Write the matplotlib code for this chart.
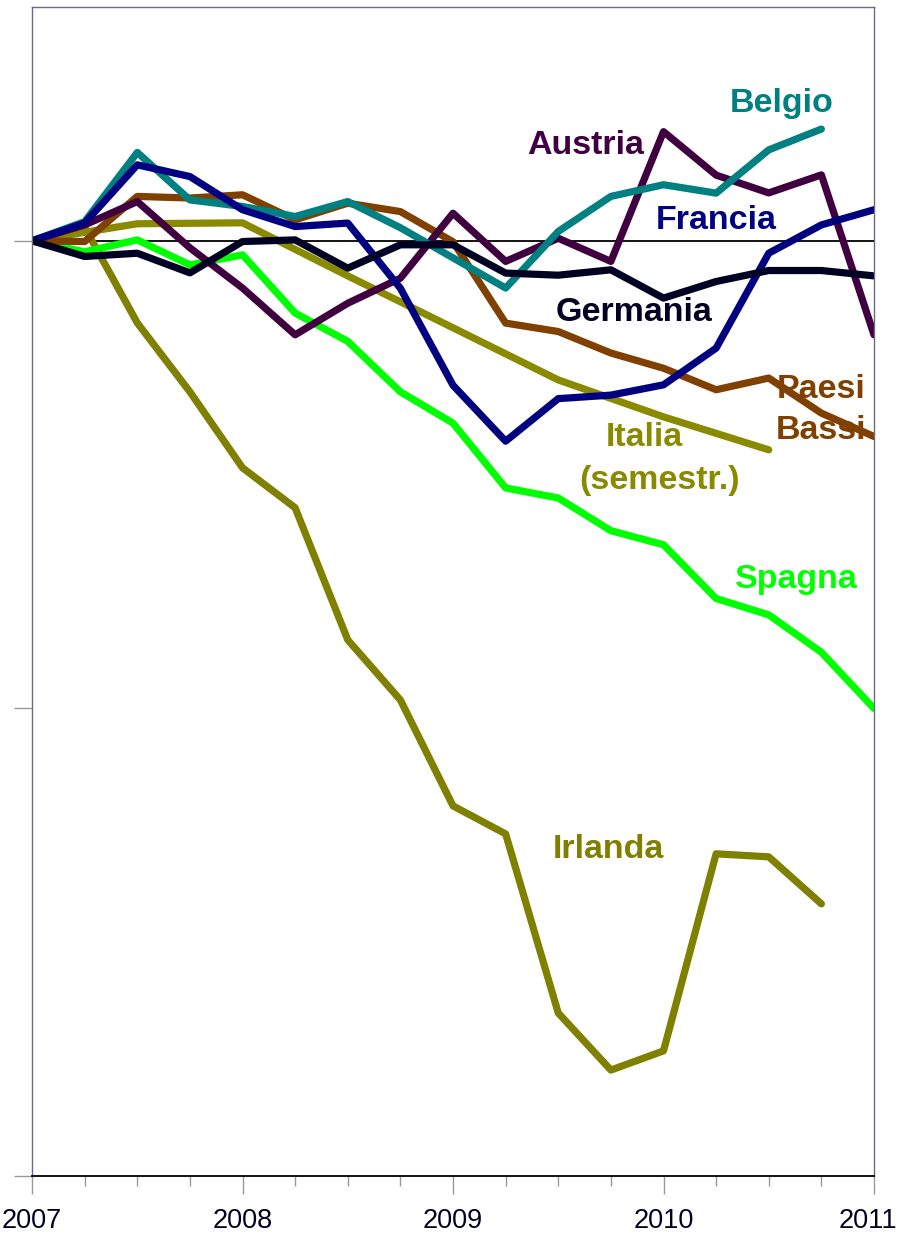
import numpy as np
import matplotlib
matplotlib.use("Agg")
import matplotlib.pyplot as plt
import matplotlib.transforms as mtransforms
from matplotlib.ticker import MultipleLocator

plt.rcParams['font.family'] = ['Liberation Sans', 'DejaVu Sans']

# quarterly index, % change since 2007
quarters = 2007 + np.arange(17) * 0.25
semesters = 2007 + np.arange(8) * 0.5

austria = [0, 0.68, 1.68, -0.30, -2.02, -4.02, -2.67, -1.60, 1.18, -0.88, 0.11, -0.88,
           4.67, 2.81, 2.05, 2.82, -4.02]
belgio = [0, 0.82, 3.78, 1.75, 1.47, 1.04, 1.68, 0.56, -0.73, -2.02, 0.40, 1.90,
          2.40, 2.04, 3.89, 4.78]
francia = [0, 0.76, 3.25, 2.75, 1.33, 0.61, 0.76, -2.03, -6.18, -8.57, -6.75, -6.60,
           -6.16, -4.59, -0.53, 0.68, 1.33]
germania = [0, -0.67, -0.53, -1.37, -0.03, 0.04, -1.17, -0.17, -0.17, -1.38, -1.47, -1.24,
            -2.45, -1.74, -1.27, -1.27, -1.50]
paesi_bassi = [0, -0.03, 1.90, 1.83, 1.97, 0.90, 1.61, 1.25, -0.04, -3.52, -3.88, -4.80,
               -5.45, -6.37, -5.87, -7.37, -8.37]
spagna = [0, -0.47, 0.04, -1.03, -0.60, -3.09, -4.30, -6.46, -7.80, -10.57, -11.0, -12.4,
          -13.0, -15.3, -16.0, -17.6, -20.0]
irlanda = [0, 0.57, -3.51, -6.46, -9.71, -11.42, -17.07, -19.64, -24.17, -25.37, -33.03, -35.47,
           -34.65, -26.22, -26.35, -28.36]
italia = [0, 0.73, 0.77, -1.50, -3.72, -5.95, -7.53, -8.94]

fig = plt.figure(figsize=(9, 12.35), dpi=100)
ax = fig.add_axes([0.0356, 0.0478, 0.9355, 0.9465])

ax.axhline(0, color='black', lw=1.3, zorder=1.5)

lw = 5.2
ax.plot(quarters[:len(irlanda)], irlanda, color='#808000', lw=lw, solid_capstyle='round')
ax.plot(semesters, italia, color='#8a8a00', lw=lw, solid_capstyle='round')
ax.plot(quarters, spagna, color='#00ff00', lw=lw, solid_capstyle='round')
ax.plot(quarters, paesi_bassi, color='#804000', lw=lw, solid_capstyle='round')
ax.plot(quarters, austria, color='#400040', lw=lw, solid_capstyle='round')
ax.plot(quarters[:len(belgio)], belgio, color='#008080', lw=lw, solid_capstyle='round')
ax.plot(quarters, francia, color='#000080', lw=lw, solid_capstyle='round')
ax.plot(quarters, germania, color='#000022', lw=lw, solid_capstyle='round')

# labels sit under the lines, as in the original
fs = 24.5
kw = dict(fontsize=fs, fontweight='bold', ha='center', va='center', zorder=1)
ax.text(2009.63, 4.06, 'Austria', color='#400040', **kw)
ax.text(2010.56, 5.86, 'Belgio', color='#008080', **kw)
ax.text(2010.25, 0.86, 'Francia', color='#000080', **kw)
ax.text(2009.86, -3.08, 'Germania', color='#000022', **kw)
ax.text(2010.75, -6.37, 'Paesi', color='#804000', **kw)
ax.text(2010.75, -8.13, 'Bassi', color='#804000', **kw)
ax.text(2009.91, -8.43, 'Italia', color='#8a8a00', **kw)
ax.text(2009.98, -10.27, '(semestr.)', color='#8a8a00', **kw)
ax.text(2010.63, -14.5, 'Spagna', color='#00ff00', **kw)
ax.text(2009.74, -26.05, 'Irlanda', color='#808000', **kw)

ax.set_xlim(2007, 2011)
ax.set_ylim(-40, 10)
ax.xaxis.set_major_locator(MultipleLocator(1))
ax.xaxis.set_minor_locator(MultipleLocator(0.25))
ax.set_xticks([2007, 2008, 2009, 2010, 2011])
ax.set_xticklabels(['2007', '2008', '2009', '2010', '2011'])
ax.set_yticks([0, -20, -40])
ax.set_yticklabels([])

spine_col = '#6a6a88'
for s in ['left', 'top', 'right']:
    ax.spines[s].set_color(spine_col)
    ax.spines[s].set_linewidth(1.0)
ax.spines['bottom'].set_color('black')
ax.spines['bottom'].set_linewidth(1.3)

ax.tick_params(axis='x', which='major', direction='out', length=13, width=1, color='#999999',
               labelsize=19.5, labelcolor='#000022', pad=10)
ax.tick_params(axis='x', which='minor', direction='out', length=7, width=1, color='#999999')
ax.tick_params(axis='y', which='major', direction='out', length=13, width=1, color='#999999')

# keep "2011" inside the canvas
last = ax.get_xticklabels()[-1]
last.set_transform(last.get_transform() + mtransforms.ScaledTranslation(-4 / 72, 0, fig.dpi_scale_trans))

fig.savefig('out.png', dpi=100)
